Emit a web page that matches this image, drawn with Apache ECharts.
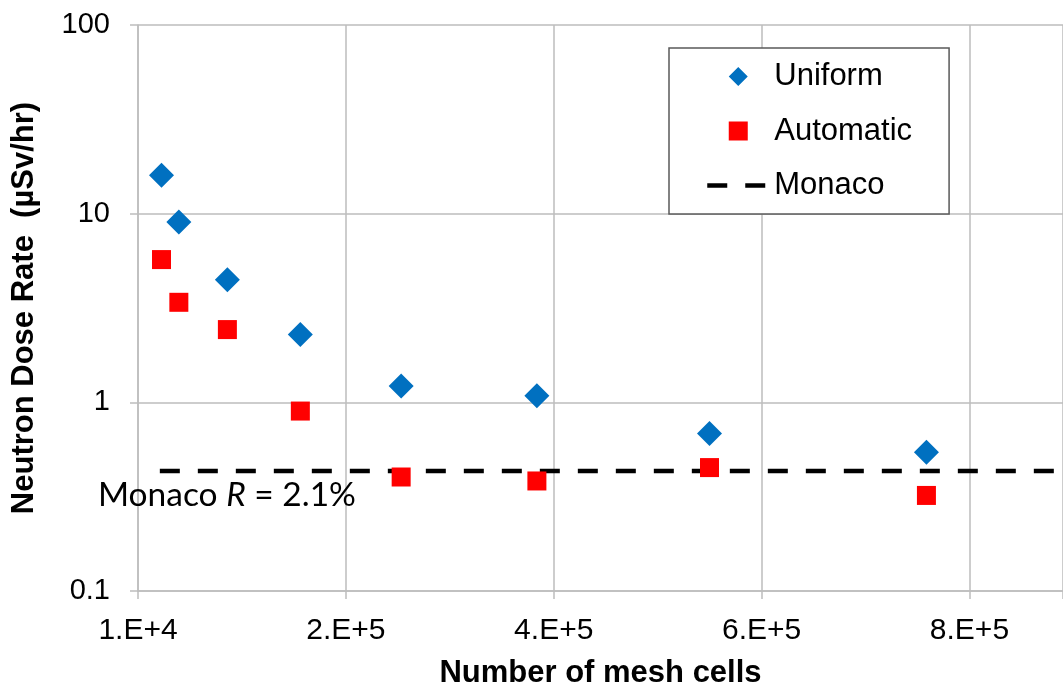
<!DOCTYPE html>
<html>
<head>
<meta charset="utf-8">
<title>Neutron Dose Rate vs Number of mesh cells</title>
<script src="https://cdn.jsdelivr.net/npm/echarts@6/dist/echarts.min.js"></script>
<style>
  html, body { margin: 0; padding: 0; background: #ffffff; }
  #chart { width: 1063px; height: 684px; }
</style>
</head>
<body>
<div id="chart"></div>
<script>
// Mesh sizes (number of cells) for each run
const meshCells = [32600, 49300, 96000, 166200, 263200, 393800, 559900, 768600];

// Neutron dose rate (µSv/hr) for uniform and automatic meshing
const uniformDose = [16.0, 9.03, 4.47, 2.29, 1.22, 1.085, 0.683, 0.543];
const automaticDose = [5.71, 3.39, 2.43, 0.899, 0.402, 0.383, 0.451, 0.321];

// Monaco reference result, drawn as a horizontal dashed line
const monacoDose = 0.432;
const monacoSpan = [31000, 900000];

// X axis ticks and their labels
const xTickValues = [10000, 210000, 410000, 610000, 810000];
const xTickLabels = ['1.E+4', '2.E+5', '4.E+5', '6.E+5', '8.E+5'];

const chart = echarts.init(document.getElementById('chart'), null, { renderer: 'canvas' });

const gridGray = '#BDBDBD';
const axisFont = 'Liberation Sans, Arial, sans-serif';

// Legend icons: a 19px marker centred in a 62x19 box. The two zero-area
// corner segments pin the path bounds to the full box so the marker is not
// stretched to the legend item width.
const iconFrame = 'M0,0L0.01,0ZM62,19L61.99,19Z';
const diamondIcon = 'path://' + iconFrame + 'M21.5,9.5L31,0L40.5,9.5L31,19Z';
const squareIcon = 'path://' + iconFrame + 'M21.5,0L40.5,0L40.5,19L21.5,19Z';

const option = {
  backgroundColor: '#ffffff',
  animation: false,
  grid: { left: 138, top: 25, right: 0, bottom: 93, containLabel: false, outerBoundsMode: 'none' },
  xAxis: {
    type: 'value',
    min: 10000,
    max: 900000,
    interval: 200000,
    name: 'Number of mesh cells',
    nameLocation: 'middle',
    nameGap: 67,
    nameTextStyle: { fontFamily: axisFont, fontWeight: 'bold', fontSize: 31, color: '#000' },
    axisLine: { show: true, lineStyle: { color: gridGray, width: 1.5 } },
    axisTick: { show: true, length: 8, lineStyle: { color: gridGray, width: 1.5 } },
    splitLine: { show: true, lineStyle: { color: gridGray, width: 1.5 } },
    axisLabel: {
      margin: 25,
      fontFamily: axisFont,
      fontSize: 30,
      color: '#000',
      formatter: function (v) {
        const i = xTickValues.indexOf(v);
        return i >= 0 ? xTickLabels[i] : '';
      }
    }
  },
  yAxis: {
    type: 'log',
    logBase: 10,
    min: 0.1,
    max: 100,
    name: 'Neutron Dose Rate  (µSv/hr)',
    nameLocation: 'middle',
    nameGap: 98,
    nameTextStyle: { fontFamily: axisFont, fontWeight: 'bold', fontSize: 31, color: '#000' },
    axisLine: { show: true, lineStyle: { color: gridGray, width: 1.5 } },
    axisTick: { show: true, length: 8, lineStyle: { color: gridGray, width: 1.5 } },
    splitLine: { show: true, lineStyle: { color: gridGray, width: 1.5 } },
    minorTick: { show: false },
    axisLabel: {
      margin: 28,
      fontFamily: axisFont,
      fontSize: 29,
      color: '#000',
      formatter: function (v) { return String(+v.toPrecision(3)); }
    }
  },
  legend: {
    orient: 'vertical',
    left: 669,
    top: 48,
    padding: [13, 37, 13, 36],
    itemWidth: 62,
    itemHeight: 19,
    itemGap: 23.5,
    selectedMode: false,
    backgroundColor: '#ffffff',
    borderColor: '#595959',
    borderWidth: 1.5,
    borderRadius: 0,
    lineStyle: { width: 4.5 },
    textStyle: { fontFamily: axisFont, fontSize: 31, color: '#000' },
    data: [
      { name: 'Uniform', icon: diamondIcon },
      { name: 'Automatic', icon: squareIcon },
      // dashed line only: hide the marker the line legend adds by default
      { name: 'Monaco', itemStyle: { opacity: 0, color: 'transparent' } }
    ]
  },
  series: [
    {
      name: 'Monaco',
      type: 'line',
      symbol: 'none',
      z: 2,
      itemStyle: { color: '#000000' },
      lineStyle: { color: '#000000', width: 4.5, type: [20, 18] },
      data: monacoSpan.map(function (x) { return [x, monacoDose]; })
    },
    {
      name: 'Uniform',
      type: 'scatter',
      symbol: 'diamond',
      symbolSize: 25,
      z: 3,
      itemStyle: { color: '#0070C0', opacity: 1 },
      data: meshCells.map(function (x, i) { return [x, uniformDose[i]]; })
    },
    {
      name: 'Automatic',
      type: 'scatter',
      symbol: 'rect',
      symbolSize: 19,
      z: 3,
      itemStyle: { color: '#FF0000', opacity: 1 },
      data: meshCells.map(function (x, i) { return [x, automaticDose[i]]; })
    }
  ],
  graphic: [
    {
      type: 'text',
      left: 98,
      top: 478,
      z: 10,
      style: {
        text: '{a|Monaco }{b|R}{a| = 2.1%}',
        rich: {
          a: { fontFamily: 'Lato, sans-serif', fontSize: 33.5, fill: '#000', color: '#000' },
          b: { fontFamily: 'Lato, sans-serif', fontSize: 33.5, fontStyle: 'italic', fill: '#000', color: '#000' }
        }
      }
    }
  ]
};

chart.setOption(option);
</script>
</body>
</html>
